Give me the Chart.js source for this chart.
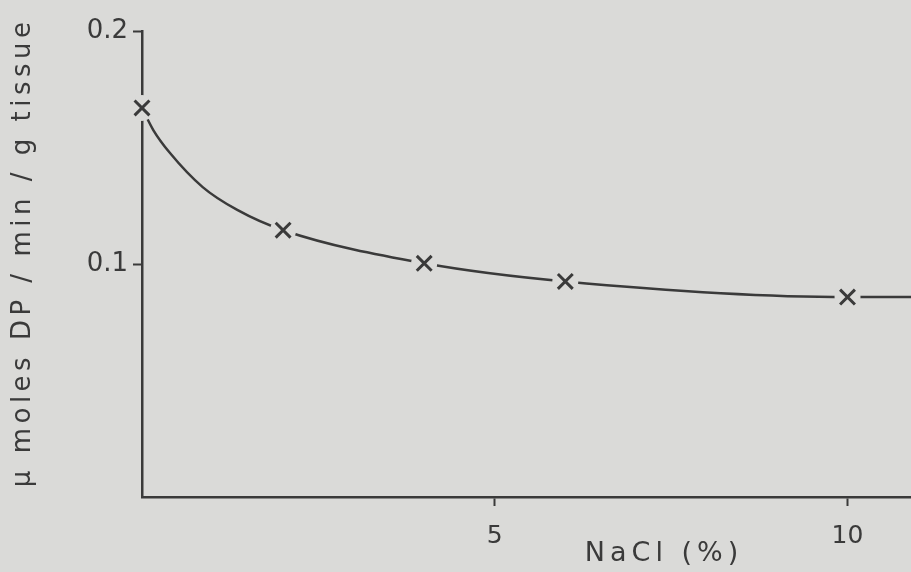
<!DOCTYPE html>
<html>
<head>
<meta charset="utf-8">
<script src="https://cdn.jsdelivr.net/npm/chart.js@4/dist/chart.umd.min.js"></script>
<style>
  html, body { margin: 0; padding: 0; background: #dadad8; }
  #wrap { width: 911px; height: 572px; position: relative; }
</style>
</head>
<body>
<div id="wrap"><canvas id="c" width="911" height="572"></canvas></div>
<script>
// Measured points (x markers)
const naclPct = [0, 2, 4, 6, 10];
const rate = [0.167, 0.1145, 0.1003, 0.0925, 0.0858];

// Drawn smooth curve (passes through markers)
const curveX = [0, 0.16, 0.4, 0.86, 1.35, 2, 4, 6, 10, 10.9];
const curveY = [0.167, 0.1575, 0.1475, 0.133, 0.1232, 0.1145, 0.1003, 0.0925, 0.0858, 0.0858];

const xTicks = [5, 10];
const yTicks = [0.1, 0.2];
const xTickLabels = ['5', '10'];
const yTickLabels = ['0.1', '0.2'];
const xTitle = 'NaCl (%)';
const yTitle = 'µ moles DP / min / g tissue';

const PAPER = '#dadad8';
const INK = '#3a3a3a';
const FONT = '"DejaVu Sans", sans-serif';

const markerPts = naclPct.map((x, i) => ({ x, y: rate[i] }));
const curvePts = curveX.map((x, i) => ({ x, y: curveY[i] }));

const bgPlugin = {
  id: 'paper',
  beforeDraw(chart) {
    const ctx = chart.ctx;
    ctx.save();
    ctx.fillStyle = PAPER;
    ctx.fillRect(0, 0, chart.width, chart.height);
    ctx.restore();
  }
};

const titlePlugin = {
  id: 'titles',
  afterDraw(chart) {
    const ctx = chart.ctx;
    const xs = chart.scales.x, ys = chart.scales.y;
    ctx.save();
    ctx.fillStyle = INK;
    ctx.textAlign = 'center';
    ctx.textBaseline = 'middle';
    // x title
    ctx.font = '27px ' + FONT;
    ctx.letterSpacing = '5px';
    ctx.fillText(xTitle, xs.getPixelForValue(7.4), 554);
    // y title
    ctx.font = '26px ' + FONT;
    ctx.letterSpacing = '4.5px';
    ctx.translate(23, ys.getPixelForValue(0.105));
    ctx.rotate(-Math.PI / 2);
    ctx.fillText(yTitle, 0, 0);
    ctx.restore();
  }
};

new Chart(document.getElementById('c'), {
  type: 'scatter',
  data: {
    datasets: [
      {
        label: 'markers',
        data: markerPts,
        pointStyle: 'crossRot',
        pointRadius: 10.5,
        pointBorderWidth: 3,
        pointBorderColor: INK,
        pointBackgroundColor: INK,
        showLine: false,
        clip: false
      },
      {
        label: 'gaps',
        data: markerPts,
        pointStyle: 'circle',
        pointRadius: 13,
        pointBorderWidth: 0,
        pointBorderColor: PAPER,
        pointBackgroundColor: PAPER,
        showLine: false,
        clip: false
      },
      {
        label: 'curve',
        data: curvePts,
        showLine: true,
        borderColor: INK,
        borderWidth: 2.5,
        pointRadius: 0,
        cubicInterpolationMode: 'monotone',
        clip: false
      }
    ]
  },
  options: {
    responsive: false,
    animation: false,
    events: [],
    layout: { autoPadding: false, padding: { top: 31, right: 0, left: 0, bottom: 0 } },
    plugins: { legend: { display: false }, tooltip: { enabled: false } },
    scales: {
      x: {
        type: 'linear',
        min: 0,
        max: 10.9,
        afterFit(s) { s.height = 75; s.paddingRight = 0; s.paddingLeft = 0; },
        afterBuildTicks(s) { s.ticks = xTicks.map(v => ({ value: v })); },
        grid: { drawOnChartArea: false, tickLength: 9, tickWidth: 2, tickColor: INK },
        border: { display: true, color: INK, width: 2.5 },
        ticks: {
          color: INK,
          font: { family: FONT, size: 25 },
          padding: 15,
          maxRotation: 0,
          callback(v) { const i = xTicks.indexOf(v); return i >= 0 ? xTickLabels[i] : ''; }
        }
      },
      y: {
        type: 'linear',
        min: 0,
        max: 0.2,
        afterFit(s) { s.width = 142; },
        afterBuildTicks(s) { s.ticks = yTicks.map(v => ({ value: v })); },
        grid: { drawOnChartArea: false, tickLength: 9, tickWidth: 2, tickColor: INK },
        border: { display: true, color: INK, width: 2.5 },
        ticks: {
          color: INK,
          font: { family: FONT, size: 26 },
          padding: 5,
          callback(v) { const i = yTicks.findIndex(t => Math.abs(t - v) < 1e-9); return i >= 0 ? yTickLabels[i] : ''; }
        }
      }
    }
  },
  plugins: [bgPlugin, titlePlugin]
});
</script>
</body>
</html>
